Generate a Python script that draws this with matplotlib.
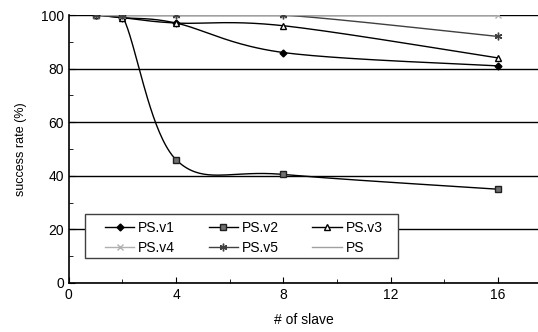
import numpy as np
import matplotlib
matplotlib.use("Agg")
import matplotlib.pyplot as plt
from matplotlib.ticker import MultipleLocator
from matplotlib.patches import Rectangle

slaves = [1, 2, 4, 8, 16]
ps_v1 = [100, 99, 97, 86, 81]
ps_v2 = [100, 99.5, 46, 40.5, 35]
ps_v3 = [100, 99, 97, 96, 84]
ps_v4 = [100, 100, 100, 100, 100]
ps_v5 = [100, 100, 100, 100, 92]
ps = [100, 100, 100, 100, 100]

plt.rcParams['font.family'] = ['Liberation Sans', 'DejaVu Sans']


def smooth(xs, ys, n=40):
    P = np.column_stack([xs, ys]).astype(float)
    P = np.vstack([P[0], P, P[-1]])
    out = []
    for i in range(1, len(P) - 2):
        p0, p1, p2, p3 = P[i - 1], P[i], P[i + 1], P[i + 2]
        t = np.linspace(0, 1, n)[:, None]
        seg = 0.5 * ((2 * p1) + (-p0 + p2) * t + (2 * p0 - 5 * p1 + 4 * p2 - p3) * t ** 2
                     + (-p0 + 3 * p1 - 3 * p2 + p3) * t ** 3)
        out.append(seg if i == 1 else seg[1:])
    out = np.vstack(out)
    return out[:, 0], out[:, 1]


fig = plt.figure(figsize=(5.38, 3.32), dpi=100)
ax = fig.add_axes([0.128, 0.1476, 0.872, 0.8072])

series = [
    ("PS.v1", ps_v1, dict(color='black', marker='D', ms=3.5, mfc='black', mec='black')),
    ("PS.v2", ps_v2, dict(color='black', marker='s', ms=4, mfc='#707070', mec='#202020')),
    ("PS.v3", ps_v3, dict(color='black', marker='^', ms=4.5, mfc='white', mec='black')),
    ("PS.v4", ps_v4, dict(color='#b0b0b0', marker='x', ms=4.5, mfc='#b0b0b0', mec='#b0b0b0')),
    ("PS.v5", ps_v5, dict(color='#404040', marker=(6, 2, 0), ms=5.5, mfc='#404040', mec='#404040')),
    ("PS", ps, dict(color='#a0a0a0', marker=None)),
]

handles = {}
for name, ys, st in series:
    sx, sy = smooth(slaves, ys)
    lc = st['color']
    ax.plot(sx, sy, color=lc, lw=1.0, zorder=3)
    kw = {k: v for k, v in st.items() if k != 'color'}
    if st['marker'] is not None:
        ax.plot(slaves, ys, linestyle='none', zorder=4, **kw)
    h, = ax.plot([], [], color=lc, lw=1.0, **kw)
    h.set_label(name)
    handles[name] = h

ax.set_xlim(0, 17.5)
ax.set_ylim(0, 100)
ax.xaxis.set_major_locator(MultipleLocator(4))
ax.xaxis.set_minor_locator(MultipleLocator(2))
ax.yaxis.set_major_locator(MultipleLocator(20))
ax.yaxis.set_minor_locator(MultipleLocator(10))
ax.tick_params(which='both', direction='in', labelsize=10)
ax.tick_params(which='major', length=4)
ax.tick_params(which='minor', length=3)
ax.grid(axis='y', which='major', color='black', lw=1.0)
ax.set_axisbelow(True)
for s in ['top', 'right']:
    ax.spines[s].set_visible(False)
ax.spines['left'].set_linewidth(1.2)
ax.spines['bottom'].set_linewidth(1.2)

ax.set_xlabel('# of slave', fontsize=10, labelpad=8)
ax.set_ylabel('success rate (%)', fontsize=9, labelpad=10)

# legend box
ax.add_patch(Rectangle((0.034, 0.093), 0.667, 0.164, transform=ax.transAxes,
                       facecolor='white', edgecolor='#404040', lw=1.0, zorder=5,
                       clip_on=False))
order = ["PS.v1", "PS.v4", "PS.v2", "PS.v5", "PS.v3", "PS"]
leg = ax.legend(handles=[handles[k] for k in order], ncol=3, loc='center left',
                bbox_to_anchor=(0.077, 0.168), frameon=False, fontsize=10,
                handlelength=2.1, handletextpad=0.3, borderpad=0, labelspacing=0.45,
                columnspacing=2.4, borderaxespad=0)
leg.set_zorder(6)

fig.savefig('out.png', dpi=100)
